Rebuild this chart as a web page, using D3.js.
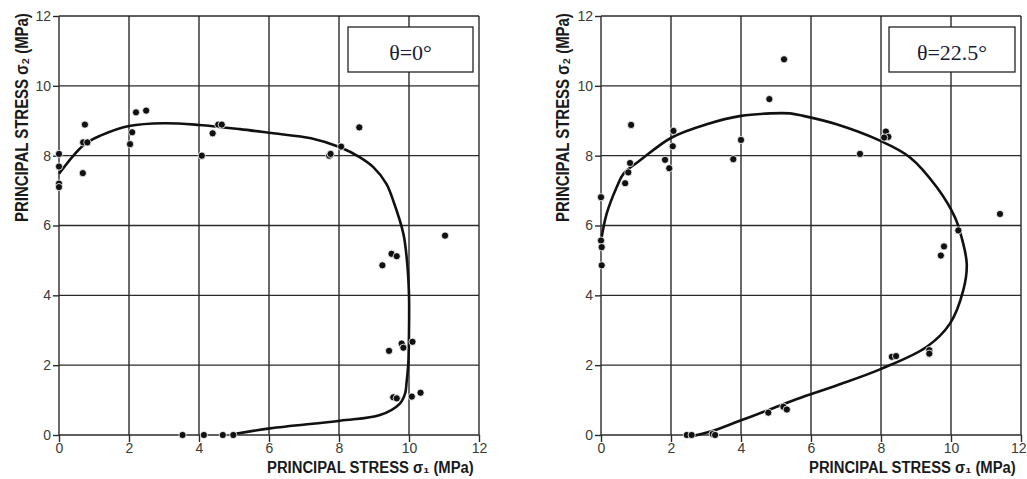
<!DOCTYPE html>
<html>
<head>
<meta charset="utf-8">
<script src="https://cdn.jsdelivr.net/npm/d3@7"></script>
<style>
  body { margin: 0; background: #fff; }
  svg text { font-family: 'Liberation Sans', Arial, sans-serif; }
</style>
</head>
<body>
<div class="canvas"></div>
<script>
// tick values shared by both panels
const ticks = [0, 2, 4, 6, 8, 10, 12]

// theta = 0 deg : measured points [sigma1, sigma2]
const pointsA = [
  [0, 8.05], [0, 7.69], [0, 7.2], [0, 7.1], [0.74, 8.89], [0.69, 8.38], [0.81, 8.38],
  [0.68, 7.5], [2.03, 8.33], [2.09, 8.67], [2.2, 9.24], [2.49, 9.29], [4.08, 8.0],
  [4.39, 8.64], [4.55, 8.89], [4.65, 8.89], [8.58, 8.81], [8.06, 8.26], [7.72, 8.0],
  [7.76, 8.05], [11.03, 5.71], [9.5, 5.19], [9.65, 5.12], [9.24, 4.86], [10.1, 2.67],
  [9.79, 2.62], [9.84, 2.5], [9.43, 2.41], [9.55, 1.08], [9.65, 1.05], [10.08, 1.1],
  [10.33, 1.21], [3.53, 0], [4.14, 0], [4.68, 0], [4.98, 0]
]
// theta = 0 deg : fitted failure envelope
const curveA = [
  [0, 7.48], [0.7, 8.3], [1.2, 8.58], [2.0, 8.85], [3.0, 8.93], [4.0, 8.88], [5.17, 8.76],
  [6.12, 8.64], [7.2, 8.5], [8.03, 8.24], [8.6, 7.95], [8.98, 7.67], [9.35, 7.2],
  [9.55, 6.71], [9.84, 5.76], [9.95, 4.9], [10.0, 4.0], [10.0, 3.0], [9.98, 2.05],
  [9.93, 1.5], [9.89, 1.19], [9.74, 0.9], [9.17, 0.57], [8.03, 0.41], [6.03, 0.19], [5.0, 0.03]
]

// theta = 22.5 deg : measured points
const pointsB = [
  [0, 6.81], [0.86, 8.88], [0.83, 7.79], [0.78, 7.52], [0.69, 7.21], [2.07, 8.71],
  [2.05, 8.27], [1.83, 7.88], [1.95, 7.64], [4.0, 8.45], [3.78, 7.9], [4.81, 9.62],
  [5.23, 10.76], [7.4, 8.05], [8.14, 8.69], [8.21, 8.54], [8.09, 8.52], [11.4, 6.33],
  [10.21, 5.86], [9.8, 5.4], [9.71, 5.14], [8.31, 2.24], [8.43, 2.26], [9.38, 2.43],
  [9.38, 2.33], [5.21, 0.81], [5.31, 0.73], [4.78, 0.64], [0, 5.57], [0.02, 5.38],
  [0.02, 4.86], [2.45, 0], [2.59, 0], [3.19, 0.03], [3.26, 0]
]
// theta = 22.5 deg : fitted failure envelope
const curveB = [
  [0, 5.55], [0.16, 6.33], [0.45, 7.1], [0.64, 7.48], [1.11, 7.86], [2.02, 8.52],
  [3.02, 8.9], [4.0, 9.14], [4.83, 9.21], [5.4, 9.21], [5.78, 9.14], [6.73, 8.9],
  [7.97, 8.43], [8.83, 7.95], [9.59, 7.1], [10.11, 6.24], [10.3, 5.67], [10.45, 4.9],
  [10.35, 4.14], [9.97, 3.19], [9.3, 2.52], [7.97, 1.88], [6.73, 1.42], [5.6, 1.03],
  [4.8, 0.72], [4.0, 0.42], [3.2, 0.12], [2.7, -0.01], [2.45, -0.03]
]

const svg = d3.select('.canvas')
  .append('svg')
  .attr('width', 1027)
  .attr('height', 479)

const plotW = 420
const plotH = 419

// draws a text squeezed to a given width (the original font is condensed)
const squeezed = (g, str, size, width, place) => {
  const t = g.append('text')
    .attr('fill', '#1a1a1a')
    .style('font-size', size + 'px')
    .style('font-weight', 'bold')
    .text(str)
  const w = t.node().getComputedTextLength()
  t.attr('transform', place(w) + ` scale(${width / w}, 1)`)
}

const panel = (left, titleX, points, curve, label, box) => {
  const g = svg.append('g')
    .attr('transform', `translate(${left}, 16)`)

  const x = d3.scaleLinear().domain([0, 12]).range([0, plotW])
  const y = d3.scaleLinear().domain([0, 12]).range([plotH, 0])

  // grid lines
  g.append('g').selectAll('line')
    .data(ticks)
    .enter().append('line')
      .attr('x1', d => x(d)).attr('x2', d => x(d))
      .attr('y1', 0).attr('y2', plotH)
      .attr('stroke', '#2a2a2a').attr('stroke-width', 1.4)
  g.append('g').selectAll('line')
    .data(ticks)
    .enter().append('line')
      .attr('y1', d => y(d)).attr('y2', d => y(d))
      .attr('x1', 0).attr('x2', plotW)
      .attr('stroke', '#2a2a2a').attr('stroke-width', 1.4)

  // axes
  const xAxis = d3.axisBottom(x).tickValues(ticks).tickSize(7).tickSizeOuter(0).tickPadding(1)
  const yAxis = d3.axisLeft(y).tickValues(ticks).tickSize(6).tickSizeOuter(0).tickPadding(2)

  const xg = g.append('g').attr('transform', `translate(0, ${plotH})`).call(xAxis)
  const yg = g.append('g').call(yAxis)
  ;[xg, yg].forEach(a => {
    a.select('.domain').remove()
    a.selectAll('line').attr('stroke', '#2a2a2a').attr('stroke-width', 1.4)
    a.selectAll('text')
      .attr('fill', '#3a3a3a')
      .style('font-size', '14px')
  })

  // keep the last x label inside the window on the right panel
  if (left + plotW + 8 > 1027) {
    xg.selectAll('.tick text')
      .filter(d => d === 12)
      .attr('text-anchor', 'end')
      .attr('dx', 5)
  }

  // axis titles
  squeezed(g, 'PRINCIPAL STRESS σ₁ (MPa)', 17, 207,
    w => `translate(${plotW - 5 - 207}, ${plotH + 38})`)
  squeezed(g, 'PRINCIPAL STRESS σ₂ (MPa)', 18, 209,
    w => `translate(${titleX - left}, ${-3 + 209}) rotate(-90)`)

  // fitted envelope
  const line = d3.line()
    .curve(d3.curveCatmullRom.alpha(0.5))
    .x(d => x(d[0]))
    .y(d => y(d[1]))

  g.append('path')
    .datum(curve)
    .attr('fill', 'none')
    .attr('stroke', '#111')
    .attr('stroke-width', 2.6)
    .attr('d', line)

  // test points
  g.selectAll('circle')
    .data(points)
    .enter().append('circle')
      .attr('cx', d => x(d[0]))
      .attr('cy', d => y(d[1]))
      .attr('r', 3.6)
      .attr('fill', '#111')
      .attr('stroke', '#fff')
      .attr('stroke-width', 0.8)

  // label box
  g.append('rect')
    .attr('x', box[0] - left).attr('y', 27 - 16)
    .attr('width', box[1]).attr('height', 45)
    .attr('fill', '#fff')
    .attr('stroke', '#222').attr('stroke-width', 1.3)
  g.append('text')
    .attr('x', box[0] - left + box[1] / 2).attr('y', 60 - 16)
    .attr('text-anchor', 'middle')
    .attr('fill', '#1b1b3a')
    .style('font-family', "'Liberation Serif', 'Times New Roman', serif")
    .style('font-size', '22px')
    .text(label)
}

panel(59, 28, pointsA, curveA, 'θ=0°', [348, 125])
panel(601, 569, pointsB, curveB, 'θ=22.5°', [889, 126])
</script>
</body>
</html>
